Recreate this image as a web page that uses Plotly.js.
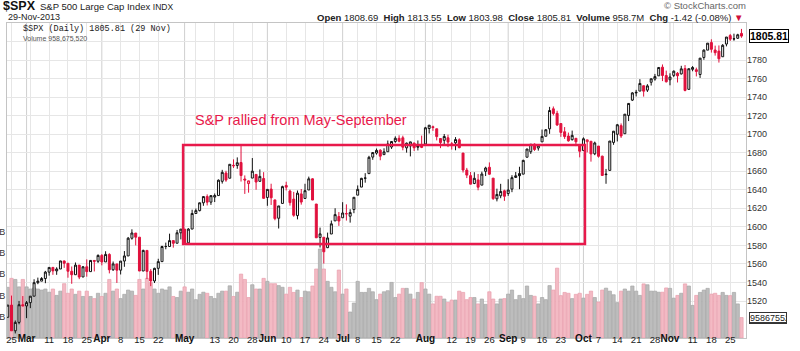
<!DOCTYPE html>
<html><head><meta charset="utf-8">
<script src="https://cdn.plot.ly/plotly-3.0.1.min.js"></script>
<style>html,body{margin:0;padding:0;background:#fff;}#chart{width:800px;height:351px;}</style>
</head><body><div id="chart"></div>
<script>
// ---- data ----
const dates = ["2013-02-22","2013-02-25","2013-02-26","2013-02-27","2013-02-28","2013-03-01","2013-03-04","2013-03-05","2013-03-06","2013-03-07","2013-03-08","2013-03-11","2013-03-12","2013-03-13","2013-03-14","2013-03-15","2013-03-18","2013-03-19","2013-03-20","2013-03-21","2013-03-22","2013-03-25","2013-03-26","2013-03-27","2013-03-28","2013-04-01","2013-04-02","2013-04-03","2013-04-04","2013-04-05","2013-04-08","2013-04-09","2013-04-10","2013-04-11","2013-04-12","2013-04-15","2013-04-16","2013-04-17","2013-04-18","2013-04-19","2013-04-22","2013-04-23","2013-04-24","2013-04-25","2013-04-26","2013-04-29","2013-04-30","2013-05-01","2013-05-02","2013-05-03","2013-05-06","2013-05-07","2013-05-08","2013-05-09","2013-05-10","2013-05-13","2013-05-14","2013-05-15","2013-05-16","2013-05-17","2013-05-20","2013-05-21","2013-05-22","2013-05-23","2013-05-24","2013-05-28","2013-05-29","2013-05-30","2013-05-31","2013-06-03","2013-06-04","2013-06-05","2013-06-06","2013-06-07","2013-06-10","2013-06-11","2013-06-12","2013-06-13","2013-06-14","2013-06-17","2013-06-18","2013-06-19","2013-06-20","2013-06-21","2013-06-24","2013-06-25","2013-06-26","2013-06-27","2013-06-28","2013-07-01","2013-07-02","2013-07-03","2013-07-05","2013-07-08","2013-07-09","2013-07-10","2013-07-11","2013-07-12","2013-07-15","2013-07-16","2013-07-17","2013-07-18","2013-07-19","2013-07-22","2013-07-23","2013-07-24","2013-07-25","2013-07-26","2013-07-29","2013-07-30","2013-07-31","2013-08-01","2013-08-02","2013-08-05","2013-08-06","2013-08-07","2013-08-08","2013-08-09","2013-08-12","2013-08-13","2013-08-14","2013-08-15","2013-08-16","2013-08-19","2013-08-20","2013-08-21","2013-08-22","2013-08-23","2013-08-26","2013-08-27","2013-08-28","2013-08-29","2013-08-30","2013-09-03","2013-09-04","2013-09-05","2013-09-06","2013-09-09","2013-09-10","2013-09-11","2013-09-12","2013-09-13","2013-09-16","2013-09-17","2013-09-18","2013-09-19","2013-09-20","2013-09-23","2013-09-24","2013-09-25","2013-09-26","2013-09-27","2013-09-30","2013-10-01","2013-10-02","2013-10-03","2013-10-04","2013-10-07","2013-10-08","2013-10-09","2013-10-10","2013-10-11","2013-10-14","2013-10-15","2013-10-16","2013-10-17","2013-10-18","2013-10-21","2013-10-22","2013-10-23","2013-10-24","2013-10-25","2013-10-28","2013-10-29","2013-10-30","2013-10-31","2013-11-01","2013-11-04","2013-11-05","2013-11-06","2013-11-07","2013-11-08","2013-11-11","2013-11-12","2013-11-13","2013-11-14","2013-11-15","2013-11-18","2013-11-19","2013-11-20","2013-11-21","2013-11-22","2013-11-25","2013-11-26","2013-11-27","2013-11-29"];

const open = [1502.42,1515.60,1487.85,1496.94,1515.99,1514.68,1518.20,1525.20,1539.79,1541.46,1544.26,1551.15,1556.22,1552.48,1554.52,1563.21,1560.70,1552.10,1548.34,1558.71,1545.90,1556.89,1551.69,1563.75,1562.86,1569.18,1562.17,1570.25,1553.69,1559.98,1553.26,1563.11,1568.61,1587.73,1593.30,1588.84,1552.36,1574.57,1552.03,1541.61,1555.25,1562.50,1578.78,1578.78,1585.16,1582.34,1593.58,1597.55,1582.77,1597.60,1614.40,1617.55,1625.95,1632.69,1626.69,1632.10,1633.75,1649.13,1658.07,1652.45,1665.71,1666.20,1669.39,1651.62,1646.67,1652.63,1656.57,1649.14,1652.13,1631.71,1640.73,1629.05,1609.29,1625.27,1644.67,1638.64,1629.94,1612.15,1635.52,1630.64,1639.77,1651.83,1624.62,1588.62,1588.77,1577.52,1592.27,1606.44,1611.12,1609.78,1614.29,1611.48,1618.65,1634.20,1642.89,1652.50,1657.41,1675.26,1679.59,1682.70,1677.91,1681.05,1686.15,1692.09,1695.53,1696.06,1685.21,1687.31,1690.32,1687.92,1687.76,1689.42,1706.10,1708.01,1705.79,1695.30,1693.35,1696.10,1688.37,1690.65,1693.88,1679.61,1661.22,1655.25,1646.81,1650.66,1645.03,1659.92,1664.29,1652.54,1630.25,1633.50,1638.89,1635.95,1640.72,1653.28,1657.44,1656.85,1675.11,1681.04,1689.21,1685.04,1691.70,1697.73,1705.74,1727.34,1722.44,1711.44,1702.60,1698.02,1694.05,1695.52,1687.26,1682.41,1691.90,1692.35,1678.79,1687.15,1676.22,1656.99,1660.88,1691.09,1699.86,1709.17,1700.49,1720.17,1736.72,1745.20,1746.48,1752.27,1747.48,1756.01,1759.42,1762.93,1772.27,1763.24,1758.70,1763.40,1765.67,1765.00,1770.74,1748.37,1769.96,1769.51,1764.37,1782.75,1790.66,1798.82,1790.79,1789.59,1783.52,1797.21,1806.33,1802.87,1803.48,1808.69];

const high = [1515.64,1525.84,1498.99,1520.08,1525.34,1519.99,1525.27,1543.47,1545.25,1545.78,1552.48,1556.27,1556.77,1556.39,1563.32,1563.62,1560.70,1557.25,1561.56,1558.71,1557.74,1564.91,1563.95,1564.07,1570.28,1570.57,1573.66,1571.47,1562.60,1559.98,1563.07,1573.89,1589.07,1597.35,1593.30,1588.84,1575.35,1574.57,1554.38,1555.89,1565.55,1579.58,1583.00,1592.64,1585.78,1596.65,1597.57,1597.55,1598.60,1618.46,1619.77,1626.03,1632.78,1635.01,1633.70,1636.00,1651.10,1661.49,1660.51,1667.47,1672.84,1674.93,1687.18,1655.50,1649.78,1674.21,1656.57,1661.91,1658.99,1640.42,1646.53,1629.31,1622.56,1644.40,1648.69,1640.13,1637.71,1639.25,1640.80,1646.50,1654.19,1652.45,1624.62,1599.19,1588.77,1593.79,1606.83,1620.07,1615.94,1626.61,1624.26,1618.97,1632.07,1644.68,1652.88,1657.92,1676.63,1680.19,1684.51,1683.73,1684.75,1693.12,1692.09,1697.61,1698.78,1698.38,1690.94,1691.85,1690.92,1693.19,1698.43,1707.85,1709.67,1709.24,1705.79,1695.30,1700.18,1699.42,1691.49,1696.81,1695.52,1679.61,1663.60,1659.18,1658.92,1656.99,1659.55,1664.85,1669.51,1652.54,1641.18,1646.41,1640.08,1651.35,1655.72,1659.17,1664.83,1672.40,1684.09,1689.13,1689.97,1688.73,1704.95,1705.52,1729.44,1729.86,1725.23,1711.44,1707.63,1701.71,1703.85,1695.52,1687.26,1696.55,1693.87,1692.35,1691.94,1687.15,1676.79,1662.47,1692.56,1703.44,1711.03,1711.57,1721.76,1733.45,1745.31,1747.79,1759.33,1752.27,1753.94,1759.82,1764.99,1772.09,1775.22,1768.53,1765.67,1768.78,1767.03,1773.74,1774.54,1770.78,1773.44,1771.78,1782.00,1791.53,1798.22,1802.33,1795.51,1795.73,1797.16,1804.84,1808.10,1808.42,1808.27,1813.55];

const low = [1502.42,1487.85,1485.01,1494.88,1514.46,1501.48,1512.29,1525.20,1538.11,1541.46,1539.19,1547.36,1548.24,1548.25,1554.52,1555.74,1545.13,1538.57,1548.34,1543.55,1545.90,1546.22,1551.69,1551.90,1561.08,1558.47,1562.17,1549.80,1552.52,1539.50,1548.63,1556.89,1568.61,1586.17,1579.97,1552.28,1552.36,1543.69,1536.03,1539.40,1548.19,1562.50,1575.80,1578.78,1577.56,1582.34,1586.50,1581.28,1582.77,1597.60,1614.21,1616.64,1622.70,1623.09,1623.71,1626.74,1633.75,1646.68,1648.60,1652.45,1663.52,1662.67,1648.86,1635.53,1636.88,1652.63,1640.05,1648.61,1630.74,1622.72,1623.62,1607.09,1598.23,1625.27,1639.26,1622.92,1610.92,1608.07,1623.96,1630.34,1639.77,1628.91,1588.19,1577.70,1560.33,1577.09,1592.27,1606.44,1601.06,1609.78,1606.77,1604.57,1614.71,1634.20,1642.89,1647.66,1657.41,1672.33,1677.89,1671.84,1677.91,1681.05,1684.08,1690.67,1691.13,1682.57,1680.07,1676.03,1681.86,1682.42,1684.94,1689.42,1700.68,1703.55,1693.29,1684.91,1688.38,1686.02,1683.35,1682.62,1684.83,1658.59,1652.61,1645.84,1646.08,1639.43,1645.03,1654.81,1656.02,1629.05,1627.47,1630.88,1628.05,1633.41,1637.41,1653.07,1640.62,1656.85,1675.11,1678.70,1681.96,1682.22,1691.70,1697.73,1700.35,1720.20,1708.89,1697.10,1694.90,1691.88,1693.11,1687.11,1674.99,1682.07,1680.34,1670.36,1677.33,1674.70,1655.03,1646.47,1660.88,1688.52,1692.13,1695.93,1700.49,1714.12,1735.74,1740.67,1746.48,1740.50,1745.50,1752.45,1757.67,1762.93,1757.24,1755.72,1752.70,1761.56,1755.76,1764.40,1746.20,1747.63,1767.85,1762.29,1760.64,1780.22,1790.66,1788.00,1784.72,1777.23,1783.52,1794.70,1800.58,1800.77,1802.77,1803.98];

const close = [1515.60,1487.85,1496.94,1515.99,1514.68,1518.20,1525.20,1539.79,1541.46,1544.26,1551.18,1556.22,1552.48,1554.52,1563.23,1560.70,1552.10,1548.34,1558.71,1545.80,1556.89,1551.69,1563.77,1562.85,1569.19,1562.17,1570.25,1553.69,1559.98,1553.28,1563.07,1568.61,1587.73,1593.37,1588.85,1552.36,1574.57,1552.01,1541.61,1555.25,1562.50,1578.78,1578.79,1585.16,1582.24,1593.61,1597.57,1582.70,1597.59,1614.42,1617.50,1625.96,1632.69,1626.67,1633.70,1633.77,1650.34,1658.78,1650.47,1667.47,1666.29,1669.16,1655.35,1650.51,1649.60,1660.06,1648.36,1654.41,1630.74,1640.42,1631.38,1608.90,1622.56,1643.38,1642.81,1626.13,1612.52,1636.36,1626.73,1639.04,1651.81,1628.93,1588.19,1592.43,1573.09,1588.03,1603.26,1613.20,1606.28,1614.96,1614.08,1615.41,1631.89,1640.46,1652.32,1652.62,1675.02,1680.19,1682.50,1676.26,1680.91,1689.37,1692.09,1695.53,1692.39,1685.94,1690.25,1691.65,1685.33,1685.96,1685.73,1706.87,1709.67,1707.14,1697.37,1690.91,1697.48,1691.42,1689.47,1694.16,1685.39,1661.32,1655.83,1646.06,1652.35,1642.80,1656.96,1663.50,1656.78,1630.48,1634.96,1638.17,1632.97,1639.77,1653.08,1655.08,1655.17,1671.71,1683.99,1689.13,1683.42,1687.99,1697.60,1704.76,1725.52,1722.34,1709.91,1701.84,1697.42,1692.77,1698.67,1691.75,1681.55,1695.00,1693.87,1678.66,1690.50,1676.12,1655.45,1656.40,1692.56,1703.20,1710.14,1698.06,1721.54,1733.15,1744.50,1744.66,1754.67,1746.38,1752.07,1759.77,1762.11,1771.95,1763.31,1756.54,1761.64,1767.93,1762.97,1770.49,1747.15,1770.61,1771.89,1767.69,1782.00,1790.62,1798.18,1791.53,1787.87,1781.37,1795.85,1804.76,1802.48,1802.75,1807.23,1805.81];

// volume in billions of shares
const volumeB = [2.38,2.80,2.75,2.40,2.75,2.40,2.30,2.35,2.30,2.25,2.30,2.15,2.30,2.00,2.20,2.55,2.10,2.30,2.05,2.20,1.95,2.20,1.95,1.85,2.10,1.95,2.10,2.75,2.20,2.30,1.85,2.05,2.25,2.20,2.00,2.75,2.30,2.80,2.60,2.30,2.10,2.30,2.25,2.40,1.95,1.90,2.20,2.40,2.15,2.30,1.80,2.05,2.15,2.10,1.95,1.85,2.10,2.20,2.20,2.45,1.95,2.15,3.00,2.75,1.90,2.50,2.30,2.30,2.80,2.66,2.55,2.55,2.46,2.38,2.06,2.38,2.14,2.25,1.90,2.20,2.17,2.44,3.24,4.18,3.24,2.66,2.38,2.17,3.19,2.06,2.30,1.22,1.64,2.66,2.14,2.14,2.33,2.17,1.80,2.06,2.17,2.22,2.61,1.90,2.06,2.33,2.33,2.06,1.83,2.14,2.60,2.30,2.06,1.60,1.96,1.96,1.83,1.67,1.78,1.78,2.20,2.14,1.80,1.90,1.90,1.60,1.83,1.58,2.17,1.83,1.60,1.83,1.85,2.06,2.25,1.80,2.00,1.85,2.44,2.00,1.96,1.60,1.90,1.80,2.46,2.25,3.28,1.99,2.14,2.10,1.85,2.05,2.10,1.87,2.05,2.20,1.90,1.69,2.25,2.34,2.20,2.03,1.66,2.20,2.30,2.20,2.44,2.20,2.00,2.54,2.50,2.20,2.20,2.15,2.15,2.35,2.33,1.87,2.00,2.10,2.54,2.44,1.53,2.00,2.14,2.25,2.33,2.06,2.10,2.00,2.14,2.00,1.99,2.14,1.60,0.96];

// x-axis labels: week day numbers and month names
const dayTickDates = ["2013-02-25","2013-03-11","2013-03-18","2013-03-25","2013-04-08","2013-04-15","2013-04-22","2013-05-13","2013-05-20","2013-05-28","2013-06-10","2013-06-17","2013-06-24","2013-07-08","2013-07-15","2013-07-22","2013-08-12","2013-08-19","2013-08-26","2013-09-09","2013-09-16","2013-09-23","2013-10-07","2013-10-14","2013-10-21","2013-10-28","2013-11-11","2013-11-18","2013-11-25"];
const dayTickLabels = ["25","11","18","25","8","15","22","13","20","28","10","17","24","8","15","22","12","19","26","9","16","23","7","14","21","28","11","18","25"];
const monthDates = ["2013-03-01","2013-04-01","2013-05-01","2013-06-03","2013-07-01","2013-08-01","2013-09-03","2013-10-01","2013-11-01"];
const monthLabels = ["Mar","Apr","May","Jun","Jul","Aug","Sep","Oct","Nov"];
const weekOnlyDates = ["2013-03-04","2013-05-06","2013-07-29","2013-08-05","2013-09-30","2013-11-04"];
const priceTicks = [1520,1540,1560,1580,1600,1620,1640,1660,1680,1700,1720,1740,1760,1780,1800];
const priceTickText = ["1520","1540","1560","1580","1600","1620","1640","1660","1680","1700","1720","1740","1760","1780",""];
const volTicks = [1,2,3,4,5];
const volTickText = ["B","B","B","B","B"];   // only the unit letter of the volume scale is visible at the left edge
const rallyStart = "2013-05-01", rallyEnd = "2013-10-01";
const rallyLow = 1581.5, rallyHigh = 1688.3;

// ---- build ----
const xi = dates.map((d,i)=>i);
const pos = d => dates.indexOf(d);
const isUp = xi.map(i => i===0 || close[i] >= close[i-1]);
const upI = xi.filter(i=>isUp[i]), dnI = xi.filter(i=>!isUp[i]);
const pick = (a, ids) => ids.map(i=>a[i]);

const RED = '#e0103c';
const traces = [
  {type:'bar', x:xi, y:volumeB, yaxis:'y', xaxis:'x', hoverinfo:'skip',
   marker:{color:xi.map(i=>isUp[i]?'#bdbdbd':'#f3bac4'),
           line:{color:xi.map(i=>isUp[i]?'#a6a6a6':'#ea9fae'), width:0.7}}},
  {type:'scatter', x:monthDates.map(pos), y:monthDates.map(()=>0), xaxis:'x2', yaxis:'y',
   mode:'markers', marker:{opacity:0}, hoverinfo:'skip'},
  {type:'candlestick', x:upI, open:pick(open,upI), high:pick(high,upI), low:pick(low,upI), close:pick(close,upI),
   xaxis:'x', yaxis:'y2', whiskerwidth:0, line:{width:1},
   increasing:{line:{color:'#111', width:1}, fillcolor:'#ffffff'},
   decreasing:{line:{color:'#111', width:1}, fillcolor:'#111'}},
  {type:'candlestick', x:dnI, open:pick(open,dnI), high:pick(high,dnI), low:pick(low,dnI), close:pick(close,dnI),
   xaxis:'x', yaxis:'y2', whiskerwidth:0, line:{width:1},
   increasing:{line:{color:RED, width:1}, fillcolor:'#ffffff'},
   decreasing:{line:{color:RED, width:1}, fillcolor:RED}}
];

const L=7, R=746, T=23, B=338;
const px = x => (x-L)/(R-L), py = y => (B-y)/(B-T);
const F = 'Liberation Sans, Arial, sans-serif';
const last = close.length-1;
const pxPerPoint = 0.9269, y1520 = 301;
const xRange = [-0.2,196.2];

const shapes = monthDates.map(d=>({type:'line', xref:'x', yref:'paper', x0:pos(d), x1:pos(d), y0:0, y1:1,
  line:{color:'#cfcfcf', width:1}, layer:'below'}));
shapes.push({type:'rect', xref:'x', yref:'y2', x0:pos(rallyStart)-0.4, x1:pos(rallyEnd)+0.4, y0:rallyLow, y1:rallyHigh,
  line:{color:'#e8194b', width:2.5}, fillcolor:'rgba(0,0,0,0)'});

const annotations = [
  {xref:'paper', yref:'paper', x:px(1), y:py(6), xanchor:'left', yanchor:'middle', showarrow:false,
   text:'<b>$SPX</b>', font:{family:F, size:12.5, color:'#111'}},
  {xref:'paper', yref:'paper', x:px(38), y:py(7), xanchor:'left', yanchor:'middle', showarrow:false,
   text:'S&P 500 Large Cap Index <span style="font-size:8.5px">INDX</span>', font:{family:F, size:9.5, color:'#222'}},
  {xref:'paper', yref:'paper', x:px(6), y:py(17), xanchor:'left', yanchor:'middle', showarrow:false,
   text:'29-Nov-2013', font:{family:F, size:9, color:'#222'}},
  {xref:'paper', yref:'paper', x:px(748), y:py(6), xanchor:'right', yanchor:'middle', showarrow:false,
   text:'© StockCharts.com', font:{family:F, size:9.5, color:'#666'}},
  {xref:'paper', yref:'paper', x:px(745), y:py(17), xanchor:'right', yanchor:'middle', showarrow:false,
   text:'<b>Open</b> '+open[last].toFixed(2)+'  <b>High</b> '+high[last].toFixed(2)+'  <b>Low</b> '+low[last].toFixed(2)+
        '  <b>Close</b> '+close[last].toFixed(2)+'  <b>Volume</b> 958.7M  <b>Chg</b> -1.42 (-0.08%) <span style="color:#d0103a">▼</span>',
   font:{family:F, size:9.5, color:'#222'}},
  {xref:'paper', yref:'paper', x:px(21), y:py(29), xanchor:'left', yanchor:'middle', showarrow:false,
   text:'$SPX (Daily) '+close[last].toFixed(2)+' (29 Nov)', font:{family:'Liberation Mono, DejaVu Sans Mono, monospace', size:8.5, color:'#222'}},
  {xref:'paper', yref:'paper', x:px(21), y:py(38.5), xanchor:'left', yanchor:'middle', showarrow:false,
   text:'Volume 958,675,520', font:{family:F, size:7, color:'#555'}},
  {xref:'paper', yref:'paper', x:px(193), y:py(120), xanchor:'left', yanchor:'middle', showarrow:false,
   text:'S&P rallied from May-September', font:{family:F, size:14.5, color:'#e8194b'}},
  {xref:'paper', yref:'y2', x:1, y:close[last], xanchor:'left', yanchor:'middle', xshift:3, showarrow:false,
   text:'<b>'+close[last].toFixed(2)+'</b>', font:{family:F, size:10.5, color:'#000'},
   bgcolor:'#fff', bordercolor:'#000', borderwidth:1, borderpad:0},
  {xref:'paper', yref:'y', x:1, y:volumeB[last], xanchor:'left', yanchor:'middle', xshift:3, showarrow:false,
   text:'<u>958675520</u>', width:36, align:'left', font:{family:F, size:9, color:'#222'},
   bgcolor:'#fff', bordercolor:'#333', borderwidth:1, borderpad:0}
];

const layout = {
  width:800, height:351, margin:{l:L, r:800-R, t:T, b:351-B},
  paper_bgcolor:'#fff', plot_bgcolor:'#fff', showlegend:false,
  bargap:0.12, boxgap:0.25, boxmode:'overlay',
  font:{family:F, size:9.5, color:'#333'},
  xaxis:{range:xRange, tickmode:'array', tickvals:dayTickDates.map(pos), ticktext:dayTickLabels,
    showgrid:true, gridcolor:'#e6e6e6', gridwidth:1, ticks:'', zeroline:false, ticklabelstandoff:-7,
    showline:true, mirror:true, linecolor:'#c4c4c4', linewidth:1,
    tickfont:{family:F, size:9.5, color:'#222'}, rangeslider:{visible:false},
    minor:{tickmode:'array', tickvals:weekOnlyDates.map(pos), showgrid:true, gridcolor:'#e6e6e6', ticks:''}},
  xaxis2:{range:xRange, overlaying:'x', side:'bottom', anchor:'y', tickmode:'array', tickvals:monthDates.map(pos), ticktext:monthLabels,
    showgrid:false, zeroline:false, showline:false, ticks:'', ticklabelstandoff:-7,
    tickfont:{family:F, size:10, color:'#111', weight:'bold'}},
  yaxis:{range:[0,(B-T)/21.3], side:'left', tickmode:'array', tickvals:volTicks, ticktext:volTickText,
    showgrid:false, zeroline:false, ticks:'', showline:true, mirror:true, linecolor:'#c4c4c4', ticklabelstandoff:-1,
    tickfont:{family:F, size:9, color:'#333'}, fixedrange:true},
  yaxis2:{range:[1520-(B-y1520)/pxPerPoint, 1520+(y1520-T)/pxPerPoint], overlaying:'y', side:'right',
    tickmode:'array', tickvals:priceTicks, ticktext:priceTickText,
    showgrid:true, gridcolor:'#e6e6e6', zeroline:false, ticks:'', showline:false,
    tickfont:{family:F, size:9, color:'#333'}},
  shapes:shapes, annotations:annotations
};

Plotly.newPlot('chart', traces, layout, {displayModeBar:false, staticPlot:true});
</script>
</body></html>
